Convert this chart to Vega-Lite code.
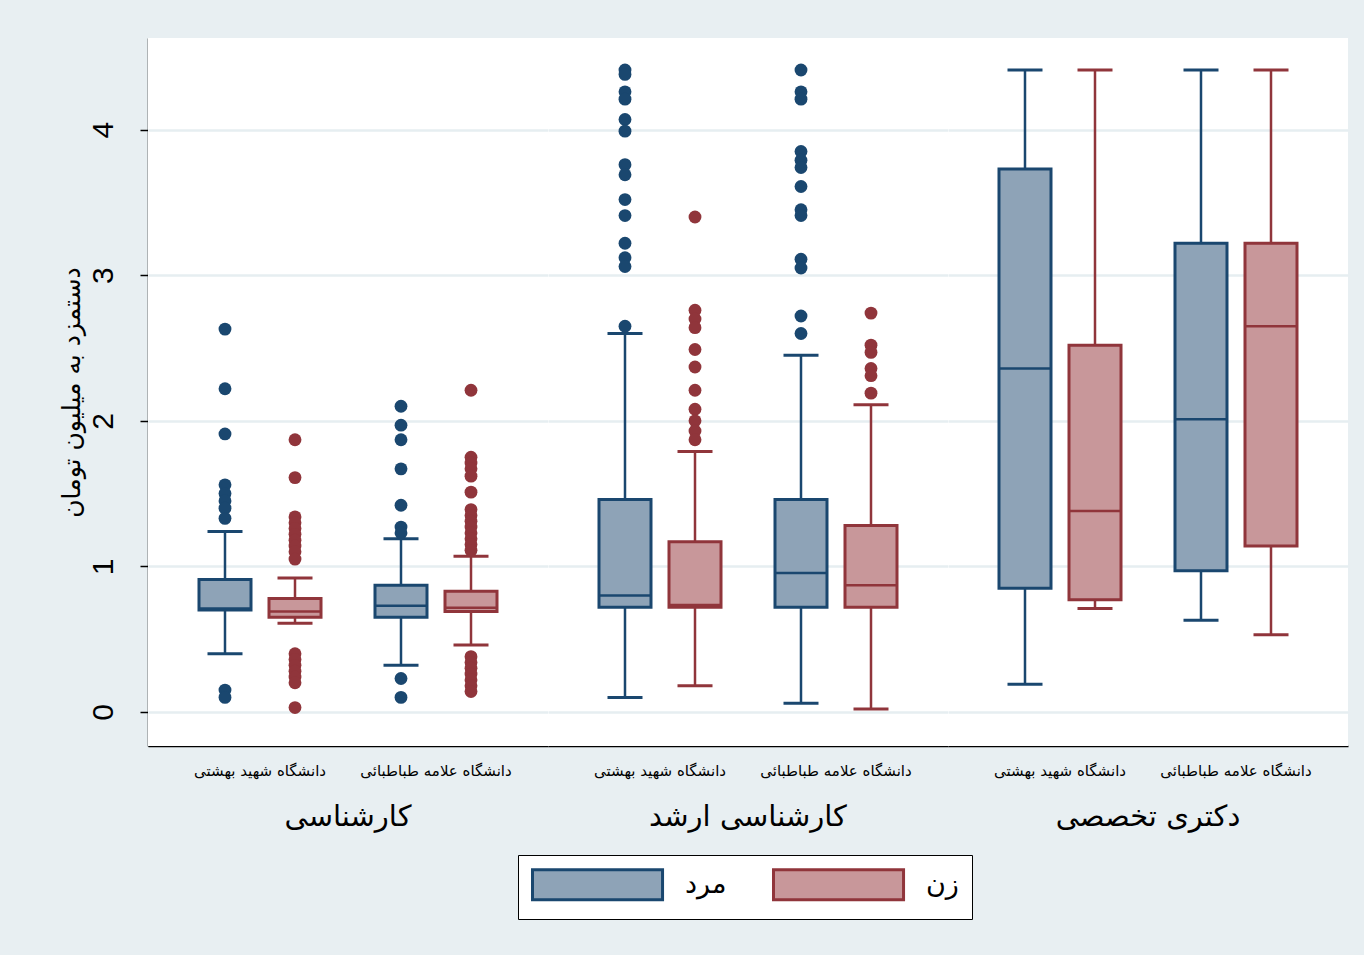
{
  "$schema": "https://vega.github.io/schema/vega-lite/v6.json",
  "background": "#e8eff2",
  "padding": {"left": 58, "top": 38, "right": 16, "bottom": 40},
  "config": {
    "font": "Liberation Sans, DejaVu Sans",
    "view": {"stroke": null, "fill": "white"},
    "legend": {
      "symbolStrokeWidth": 3,
      "labelFontSize": 27,
      "labelFont": "DejaVu Sans",
      "labelColor": "black",
      "fillColor": "white",
      "strokeColor": "black",
      "padding": 13,
      "columnPadding": 40,
      "labelOffset": 121,
      "symbolType": "M-1,-1H7.67V1H-1Z",
      "symbolSize": 900
    }
  },
  "data": {"values": [
    {"kind": "box", "deg": "کارشناسی", "univ": "دانشگاه شهید بهشتی", "sex": "مرد", "lower": 0.40, "q1": 0.70, "median": 0.71, "q3": 0.91, "upper": 1.24},
    {"kind": "box", "deg": "کارشناسی", "univ": "دانشگاه شهید بهشتی", "sex": "زن", "lower": 0.61, "q1": 0.65, "median": 0.69, "q3": 0.78, "upper": 0.92},
    {"kind": "box", "deg": "کارشناسی", "univ": "دانشگاه علامه طباطبائی", "sex": "مرد", "lower": 0.32, "q1": 0.65, "median": 0.73, "q3": 0.87, "upper": 1.19},
    {"kind": "box", "deg": "کارشناسی", "univ": "دانشگاه علامه طباطبائی", "sex": "زن", "lower": 0.46, "q1": 0.69, "median": 0.715, "q3": 0.83, "upper": 1.07},
    {"kind": "box", "deg": "کارشناسی ارشد", "univ": "دانشگاه شهید بهشتی", "sex": "مرد", "lower": 0.10, "q1": 0.72, "median": 0.80, "q3": 1.46, "upper": 2.60},
    {"kind": "box", "deg": "کارشناسی ارشد", "univ": "دانشگاه شهید بهشتی", "sex": "زن", "lower": 0.18, "q1": 0.72, "median": 0.735, "q3": 1.17, "upper": 1.79},
    {"kind": "box", "deg": "کارشناسی ارشد", "univ": "دانشگاه علامه طباطبائی", "sex": "مرد", "lower": 0.06, "q1": 0.72, "median": 0.955, "q3": 1.46, "upper": 2.45},
    {"kind": "box", "deg": "کارشناسی ارشد", "univ": "دانشگاه علامه طباطبائی", "sex": "زن", "lower": 0.02, "q1": 0.72, "median": 0.87, "q3": 1.28, "upper": 2.11},
    {"kind": "box", "deg": "دکتری تخصصی", "univ": "دانشگاه شهید بهشتی", "sex": "مرد", "lower": 0.19, "q1": 0.85, "median": 2.36, "q3": 3.73, "upper": 4.41},
    {"kind": "box", "deg": "دکتری تخصصی", "univ": "دانشگاه شهید بهشتی", "sex": "زن", "lower": 0.71, "q1": 0.77, "median": 1.38, "q3": 2.52, "upper": 4.41},
    {"kind": "box", "deg": "دکتری تخصصی", "univ": "دانشگاه علامه طباطبائی", "sex": "مرد", "lower": 0.63, "q1": 0.97, "median": 2.01, "q3": 3.22, "upper": 4.41},
    {"kind": "box", "deg": "دکتری تخصصی", "univ": "دانشگاه علامه طباطبائی", "sex": "زن", "lower": 0.53, "q1": 1.14, "median": 2.65, "q3": 3.22, "upper": 4.41},

    {"kind": "out", "deg": "کارشناسی", "univ": "دانشگاه شهید بهشتی", "sex": "مرد", "v": 2.63},
    {"kind": "out", "deg": "کارشناسی", "univ": "دانشگاه شهید بهشتی", "sex": "مرد", "v": 2.22},
    {"kind": "out", "deg": "کارشناسی", "univ": "دانشگاه شهید بهشتی", "sex": "مرد", "v": 1.91},
    {"kind": "out", "deg": "کارشناسی", "univ": "دانشگاه شهید بهشتی", "sex": "مرد", "v": 1.56},
    {"kind": "out", "deg": "کارشناسی", "univ": "دانشگاه شهید بهشتی", "sex": "مرد", "v": 1.50},
    {"kind": "out", "deg": "کارشناسی", "univ": "دانشگاه شهید بهشتی", "sex": "مرد", "v": 1.45},
    {"kind": "out", "deg": "کارشناسی", "univ": "دانشگاه شهید بهشتی", "sex": "مرد", "v": 1.40},
    {"kind": "out", "deg": "کارشناسی", "univ": "دانشگاه شهید بهشتی", "sex": "مرد", "v": 1.33},
    {"kind": "out", "deg": "کارشناسی", "univ": "دانشگاه شهید بهشتی", "sex": "مرد", "v": 0.15},
    {"kind": "out", "deg": "کارشناسی", "univ": "دانشگاه شهید بهشتی", "sex": "مرد", "v": 0.10},

    {"kind": "out", "deg": "کارشناسی", "univ": "دانشگاه شهید بهشتی", "sex": "زن", "v": 1.87},
    {"kind": "out", "deg": "کارشناسی", "univ": "دانشگاه شهید بهشتی", "sex": "زن", "v": 1.61},
    {"kind": "out", "deg": "کارشناسی", "univ": "دانشگاه شهید بهشتی", "sex": "زن", "v": 1.34},
    {"kind": "out", "deg": "کارشناسی", "univ": "دانشگاه شهید بهشتی", "sex": "زن", "v": 1.30},
    {"kind": "out", "deg": "کارشناسی", "univ": "دانشگاه شهید بهشتی", "sex": "زن", "v": 1.26},
    {"kind": "out", "deg": "کارشناسی", "univ": "دانشگاه شهید بهشتی", "sex": "زن", "v": 1.22},
    {"kind": "out", "deg": "کارشناسی", "univ": "دانشگاه شهید بهشتی", "sex": "زن", "v": 1.18},
    {"kind": "out", "deg": "کارشناسی", "univ": "دانشگاه شهید بهشتی", "sex": "زن", "v": 1.14},
    {"kind": "out", "deg": "کارشناسی", "univ": "دانشگاه شهید بهشتی", "sex": "زن", "v": 1.10},
    {"kind": "out", "deg": "کارشناسی", "univ": "دانشگاه شهید بهشتی", "sex": "زن", "v": 1.05},
    {"kind": "out", "deg": "کارشناسی", "univ": "دانشگاه شهید بهشتی", "sex": "زن", "v": 0.40},
    {"kind": "out", "deg": "کارشناسی", "univ": "دانشگاه شهید بهشتی", "sex": "زن", "v": 0.36},
    {"kind": "out", "deg": "کارشناسی", "univ": "دانشگاه شهید بهشتی", "sex": "زن", "v": 0.32},
    {"kind": "out", "deg": "کارشناسی", "univ": "دانشگاه شهید بهشتی", "sex": "زن", "v": 0.28},
    {"kind": "out", "deg": "کارشناسی", "univ": "دانشگاه شهید بهشتی", "sex": "زن", "v": 0.24},
    {"kind": "out", "deg": "کارشناسی", "univ": "دانشگاه شهید بهشتی", "sex": "زن", "v": 0.20},
    {"kind": "out", "deg": "کارشناسی", "univ": "دانشگاه شهید بهشتی", "sex": "زن", "v": 0.03},

    {"kind": "out", "deg": "کارشناسی", "univ": "دانشگاه علامه طباطبائی", "sex": "مرد", "v": 2.10},
    {"kind": "out", "deg": "کارشناسی", "univ": "دانشگاه علامه طباطبائی", "sex": "مرد", "v": 1.97},
    {"kind": "out", "deg": "کارشناسی", "univ": "دانشگاه علامه طباطبائی", "sex": "مرد", "v": 1.87},
    {"kind": "out", "deg": "کارشناسی", "univ": "دانشگاه علامه طباطبائی", "sex": "مرد", "v": 1.67},
    {"kind": "out", "deg": "کارشناسی", "univ": "دانشگاه علامه طباطبائی", "sex": "مرد", "v": 1.42},
    {"kind": "out", "deg": "کارشناسی", "univ": "دانشگاه علامه طباطبائی", "sex": "مرد", "v": 1.27},
    {"kind": "out", "deg": "کارشناسی", "univ": "دانشگاه علامه طباطبائی", "sex": "مرد", "v": 1.23},
    {"kind": "out", "deg": "کارشناسی", "univ": "دانشگاه علامه طباطبائی", "sex": "مرد", "v": 0.23},
    {"kind": "out", "deg": "کارشناسی", "univ": "دانشگاه علامه طباطبائی", "sex": "مرد", "v": 0.10},

    {"kind": "out", "deg": "کارشناسی", "univ": "دانشگاه علامه طباطبائی", "sex": "زن", "v": 2.21},
    {"kind": "out", "deg": "کارشناسی", "univ": "دانشگاه علامه طباطبائی", "sex": "زن", "v": 1.75},
    {"kind": "out", "deg": "کارشناسی", "univ": "دانشگاه علامه طباطبائی", "sex": "زن", "v": 1.71},
    {"kind": "out", "deg": "کارشناسی", "univ": "دانشگاه علامه طباطبائی", "sex": "زن", "v": 1.67},
    {"kind": "out", "deg": "کارشناسی", "univ": "دانشگاه علامه طباطبائی", "sex": "زن", "v": 1.62},
    {"kind": "out", "deg": "کارشناسی", "univ": "دانشگاه علامه طباطبائی", "sex": "زن", "v": 1.51},
    {"kind": "out", "deg": "کارشناسی", "univ": "دانشگاه علامه طباطبائی", "sex": "زن", "v": 1.39},
    {"kind": "out", "deg": "کارشناسی", "univ": "دانشگاه علامه طباطبائی", "sex": "زن", "v": 1.35},
    {"kind": "out", "deg": "کارشناسی", "univ": "دانشگاه علامه طباطبائی", "sex": "زن", "v": 1.31},
    {"kind": "out", "deg": "کارشناسی", "univ": "دانشگاه علامه طباطبائی", "sex": "زن", "v": 1.27},
    {"kind": "out", "deg": "کارشناسی", "univ": "دانشگاه علامه طباطبائی", "sex": "زن", "v": 1.23},
    {"kind": "out", "deg": "کارشناسی", "univ": "دانشگاه علامه طباطبائی", "sex": "زن", "v": 1.19},
    {"kind": "out", "deg": "کارشناسی", "univ": "دانشگاه علامه طباطبائی", "sex": "زن", "v": 1.15},
    {"kind": "out", "deg": "کارشناسی", "univ": "دانشگاه علامه طباطبائی", "sex": "زن", "v": 1.11},
    {"kind": "out", "deg": "کارشناسی", "univ": "دانشگاه علامه طباطبائی", "sex": "زن", "v": 0.38},
    {"kind": "out", "deg": "کارشناسی", "univ": "دانشگاه علامه طباطبائی", "sex": "زن", "v": 0.34},
    {"kind": "out", "deg": "کارشناسی", "univ": "دانشگاه علامه طباطبائی", "sex": "زن", "v": 0.30},
    {"kind": "out", "deg": "کارشناسی", "univ": "دانشگاه علامه طباطبائی", "sex": "زن", "v": 0.26},
    {"kind": "out", "deg": "کارشناسی", "univ": "دانشگاه علامه طباطبائی", "sex": "زن", "v": 0.22},
    {"kind": "out", "deg": "کارشناسی", "univ": "دانشگاه علامه طباطبائی", "sex": "زن", "v": 0.18},
    {"kind": "out", "deg": "کارشناسی", "univ": "دانشگاه علامه طباطبائی", "sex": "زن", "v": 0.14},

    {"kind": "out", "deg": "کارشناسی ارشد", "univ": "دانشگاه شهید بهشتی", "sex": "مرد", "v": 4.41},
    {"kind": "out", "deg": "کارشناسی ارشد", "univ": "دانشگاه شهید بهشتی", "sex": "مرد", "v": 4.38},
    {"kind": "out", "deg": "کارشناسی ارشد", "univ": "دانشگاه شهید بهشتی", "sex": "مرد", "v": 4.26},
    {"kind": "out", "deg": "کارشناسی ارشد", "univ": "دانشگاه شهید بهشتی", "sex": "مرد", "v": 4.21},
    {"kind": "out", "deg": "کارشناسی ارشد", "univ": "دانشگاه شهید بهشتی", "sex": "مرد", "v": 4.07},
    {"kind": "out", "deg": "کارشناسی ارشد", "univ": "دانشگاه شهید بهشتی", "sex": "مرد", "v": 3.99},
    {"kind": "out", "deg": "کارشناسی ارشد", "univ": "دانشگاه شهید بهشتی", "sex": "مرد", "v": 3.76},
    {"kind": "out", "deg": "کارشناسی ارشد", "univ": "دانشگاه شهید بهشتی", "sex": "مرد", "v": 3.69},
    {"kind": "out", "deg": "کارشناسی ارشد", "univ": "دانشگاه شهید بهشتی", "sex": "مرد", "v": 3.52},
    {"kind": "out", "deg": "کارشناسی ارشد", "univ": "دانشگاه شهید بهشتی", "sex": "مرد", "v": 3.41},
    {"kind": "out", "deg": "کارشناسی ارشد", "univ": "دانشگاه شهید بهشتی", "sex": "مرد", "v": 3.22},
    {"kind": "out", "deg": "کارشناسی ارشد", "univ": "دانشگاه شهید بهشتی", "sex": "مرد", "v": 3.12},
    {"kind": "out", "deg": "کارشناسی ارشد", "univ": "دانشگاه شهید بهشتی", "sex": "مرد", "v": 3.06},
    {"kind": "out", "deg": "کارشناسی ارشد", "univ": "دانشگاه شهید بهشتی", "sex": "مرد", "v": 2.65},

    {"kind": "out", "deg": "کارشناسی ارشد", "univ": "دانشگاه شهید بهشتی", "sex": "زن", "v": 3.40},
    {"kind": "out", "deg": "کارشناسی ارشد", "univ": "دانشگاه شهید بهشتی", "sex": "زن", "v": 2.76},
    {"kind": "out", "deg": "کارشناسی ارشد", "univ": "دانشگاه شهید بهشتی", "sex": "زن", "v": 2.70},
    {"kind": "out", "deg": "کارشناسی ارشد", "univ": "دانشگاه شهید بهشتی", "sex": "زن", "v": 2.64},
    {"kind": "out", "deg": "کارشناسی ارشد", "univ": "دانشگاه شهید بهشتی", "sex": "زن", "v": 2.49},
    {"kind": "out", "deg": "کارشناسی ارشد", "univ": "دانشگاه شهید بهشتی", "sex": "زن", "v": 2.37},
    {"kind": "out", "deg": "کارشناسی ارشد", "univ": "دانشگاه شهید بهشتی", "sex": "زن", "v": 2.21},
    {"kind": "out", "deg": "کارشناسی ارشد", "univ": "دانشگاه شهید بهشتی", "sex": "زن", "v": 2.08},
    {"kind": "out", "deg": "کارشناسی ارشد", "univ": "دانشگاه شهید بهشتی", "sex": "زن", "v": 2.00},
    {"kind": "out", "deg": "کارشناسی ارشد", "univ": "دانشگاه شهید بهشتی", "sex": "زن", "v": 1.93},
    {"kind": "out", "deg": "کارشناسی ارشد", "univ": "دانشگاه شهید بهشتی", "sex": "زن", "v": 1.87},

    {"kind": "out", "deg": "کارشناسی ارشد", "univ": "دانشگاه علامه طباطبائی", "sex": "مرد", "v": 4.41},
    {"kind": "out", "deg": "کارشناسی ارشد", "univ": "دانشگاه علامه طباطبائی", "sex": "مرد", "v": 4.26},
    {"kind": "out", "deg": "کارشناسی ارشد", "univ": "دانشگاه علامه طباطبائی", "sex": "مرد", "v": 4.21},
    {"kind": "out", "deg": "کارشناسی ارشد", "univ": "دانشگاه علامه طباطبائی", "sex": "مرد", "v": 3.85},
    {"kind": "out", "deg": "کارشناسی ارشد", "univ": "دانشگاه علامه طباطبائی", "sex": "مرد", "v": 3.79},
    {"kind": "out", "deg": "کارشناسی ارشد", "univ": "دانشگاه علامه طباطبائی", "sex": "مرد", "v": 3.74},
    {"kind": "out", "deg": "کارشناسی ارشد", "univ": "دانشگاه علامه طباطبائی", "sex": "مرد", "v": 3.61},
    {"kind": "out", "deg": "کارشناسی ارشد", "univ": "دانشگاه علامه طباطبائی", "sex": "مرد", "v": 3.45},
    {"kind": "out", "deg": "کارشناسی ارشد", "univ": "دانشگاه علامه طباطبائی", "sex": "مرد", "v": 3.41},
    {"kind": "out", "deg": "کارشناسی ارشد", "univ": "دانشگاه علامه طباطبائی", "sex": "مرد", "v": 3.11},
    {"kind": "out", "deg": "کارشناسی ارشد", "univ": "دانشگاه علامه طباطبائی", "sex": "مرد", "v": 3.05},
    {"kind": "out", "deg": "کارشناسی ارشد", "univ": "دانشگاه علامه طباطبائی", "sex": "مرد", "v": 2.72},
    {"kind": "out", "deg": "کارشناسی ارشد", "univ": "دانشگاه علامه طباطبائی", "sex": "مرد", "v": 2.60},

    {"kind": "out", "deg": "کارشناسی ارشد", "univ": "دانشگاه علامه طباطبائی", "sex": "زن", "v": 2.74},
    {"kind": "out", "deg": "کارشناسی ارشد", "univ": "دانشگاه علامه طباطبائی", "sex": "زن", "v": 2.52},
    {"kind": "out", "deg": "کارشناسی ارشد", "univ": "دانشگاه علامه طباطبائی", "sex": "زن", "v": 2.47},
    {"kind": "out", "deg": "کارشناسی ارشد", "univ": "دانشگاه علامه طباطبائی", "sex": "زن", "v": 2.36},
    {"kind": "out", "deg": "کارشناسی ارشد", "univ": "دانشگاه علامه طباطبائی", "sex": "زن", "v": 2.31},
    {"kind": "out", "deg": "کارشناسی ارشد", "univ": "دانشگاه علامه طباطبائی", "sex": "زن", "v": 2.19}
  ]},
  "facet": {
    "column": {
      "field": "deg", "type": "nominal",
      "sort": ["کارشناسی", "کارشناسی ارشد", "دکتری تخصصی"],
      "header": {"title": null, "labelOrient": "bottom", "labelFontSize": 29, "labelFont": "DejaVu Sans", "labelColor": "black", "labelPadding": 25}
    }
  },
  "spacing": 0,
  "spec": {
    "width": 400,
    "height": 708,
    "encoding": {
      "x": {
        "field": "univ", "type": "nominal",
        "sort": ["دانشگاه شهید بهشتی", "دانشگاه علامه طباطبائی"],
        "scale": {"paddingInner": 0.2045, "paddingOuter": 0.2386},
        "axis": {"title": null, "ticks": false, "labelAngle": 0, "labelFontSize": 15, "labelFont": "DejaVu Sans", "labelColor": "black", "labelPadding": 17, "domainColor": "black", "domainWidth": 1.5, "grid": false}
      },
      "xOffset": {"field": "sex", "type": "nominal", "sort": ["مرد", "زن"], "scale": {"paddingInner": 0, "paddingOuter": 0}}
    },
    "layer": [
      {
        "transform": [{"filter": "datum.kind == 'box'"}],
        "mark": {"type": "rule", "strokeWidth": 2.5},
        "encoding": {
          "y": {
            "field": "lower", "type": "quantitative",
            "scale": {"domain": [-0.234, 4.63], "nice": false, "zero": false},
            "axis": {
              "values": [0, 1, 2, 3, 4],
              "format": "d",
              "title": "دستمزد به میلیون تومان",
              "titleFont": "DejaVu Sans", "titleFontSize": 25, "titleFontWeight": "normal", "titleColor": "black", "titlePadding": 4,
              "labelAngle": -90, "labelFontSize": 30, "labelColor": "black", "labelPadding": 22,
              "tickSize": 8, "tickColor": "black", "tickWidth": 1.5,
              "domainColor": "black", "domainWidth": 1.5,
              "grid": true, "gridColor": "#e6eef1", "gridWidth": 2.5
            }
          },
          "y2": {"field": "upper"},
          "color": {"field": "sex", "type": "nominal", "scale": {"domain": ["زن", "مرد"], "range": ["#90353b", "#1a476f"]}, "legend": null}
        }
      },
      {
        "transform": [{"filter": "datum.kind == 'box'"}],
        "mark": {"type": "tick", "size": 35, "thickness": 3, "opacity": 1},
        "encoding": {
          "y": {"field": "lower", "type": "quantitative"},
          "color": {"field": "sex", "type": "nominal", "legend": null}
        }
      },
      {
        "transform": [{"filter": "datum.kind == 'box'"}],
        "mark": {"type": "tick", "size": 35, "thickness": 3, "opacity": 1},
        "encoding": {
          "y": {"field": "upper", "type": "quantitative"},
          "color": {"field": "sex", "type": "nominal", "legend": null}
        }
      },
      {
        "transform": [{"filter": "datum.kind == 'box'"}],
        "mark": {"type": "bar", "width": 52, "strokeWidth": 3, "opacity": 1},
        "encoding": {
          "y": {"field": "q1", "type": "quantitative"},
          "y2": {"field": "q3"},
          "fill": {"field": "sex", "type": "nominal", "scale": {"domain": ["مرد", "زن"], "range": ["#8ea3b7", "#c8979a"]}, "legend": {"title": null, "orient": "none", "legendX": 370, "legendY": 817, "direction": "horizontal"}},
          "stroke": {"field": "sex", "type": "nominal", "scale": {"domain": ["مرد", "زن"], "range": ["#1a476f", "#90353b"]}, "legend": {"title": null, "orient": "none", "legendX": 370, "legendY": 817, "direction": "horizontal"}}
        }
      },
      {
        "transform": [{"filter": "datum.kind == 'box'"}],
        "mark": {"type": "tick", "size": 50, "thickness": 2.5, "opacity": 1},
        "encoding": {
          "y": {"field": "median", "type": "quantitative"},
          "color": {"field": "sex", "type": "nominal", "legend": null}
        }
      },
      {
        "transform": [{"filter": "datum.kind == 'out'"}],
        "mark": {"type": "point", "filled": true, "shape": "circle", "size": 165, "opacity": 1},
        "encoding": {
          "y": {"field": "v", "type": "quantitative"},
          "color": {"field": "sex", "type": "nominal", "legend": null}
        }
      }
    ]
  }
}
